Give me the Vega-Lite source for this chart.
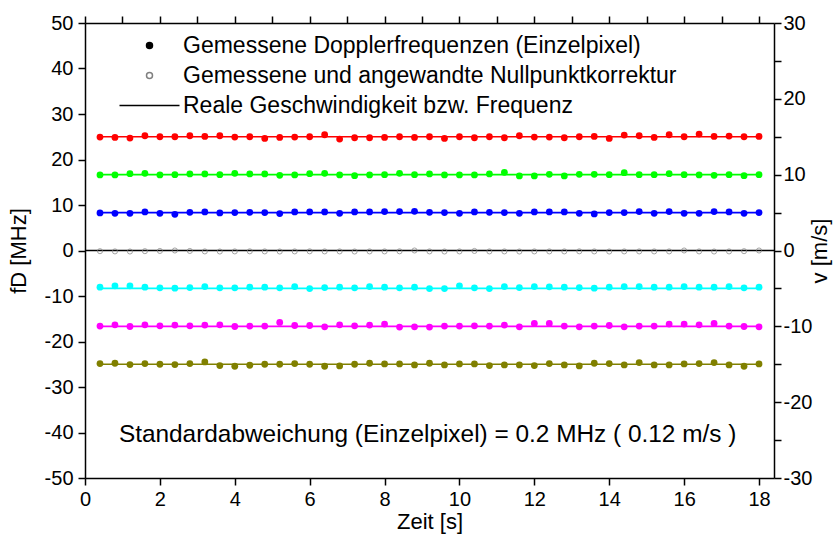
{
  "$schema": "https://vega.github.io/schema/vega-lite/v6.json",
  "width": 689,
  "height": 455,
  "autosize": {"type": "none"},
  "padding": {"left": 85, "top": 23, "right": 64, "bottom": 57},
  "background": "white",
  "config": {
    "view": {"stroke": null},
    "font": "Liberation Sans",
    "axis": {
      "grid": false,
      "ticks": true,
      "tickSize": 7,
      "domainColor": "black",
      "domainWidth": 1.5,
      "tickColor": "black",
      "tickWidth": 1.5,
      "labelFont": "Liberation Sans",
      "labelFontSize": 20,
      "labelColor": "black",
      "labelOverlap": false,
      "labelFlush": false,
      "titleFont": "Liberation Sans",
      "titleFontSize": 22,
      "titleFontWeight": "normal",
      "titleColor": "black"
    },
    "legend": {
      "labelFont": "Liberation Sans",
      "labelFontSize": 23,
      "labelColor": "black",
      "labelLimit": 800,
      "symbolStrokeWidth": 1.5,
      "symbolOpacity": 1,
      "symbolSize": 36
    }
  },
  "datasets": {
    "lines": [
      {"s": "p15", "t": 0.4, "v": 15}, {"s": "p15", "t": 18, "v": 15},
      {"s": "p10", "t": 0.4, "v": 10}, {"s": "p10", "t": 18, "v": 10},
      {"s": "p5", "t": 0.4, "v": 5}, {"s": "p5", "t": 18, "v": 5},
      {"s": "z", "t": 0, "v": 0}, {"s": "z", "t": 18.4, "v": 0},
      {"s": "m5", "t": 0.4, "v": -5}, {"s": "m5", "t": 18, "v": -5},
      {"s": "m10", "t": 0.4, "v": -10}, {"s": "m10", "t": 18, "v": -10},
      {"s": "m15", "t": 0.4, "v": -15}, {"s": "m15", "t": 18, "v": -15}
    ],
    "pts": [
      {"s":"p15","t":0.4,"f":24.93},{"s":"p15","t":0.8,"f":24.85},{"s":"p15","t":1.2,"f":24.7},{"s":"p15","t":1.6,"f":25.22},{"s":"p15","t":2,"f":25.0},{"s":"p15","t":2.4,"f":25.0},{"s":"p15","t":2.8,"f":25.22},{"s":"p15","t":3.2,"f":25.07},{"s":"p15","t":3.6,"f":25.22},{"s":"p15","t":4,"f":24.93},{"s":"p15","t":4.4,"f":25.0},{"s":"p15","t":4.8,"f":24.63},{"s":"p15","t":5.2,"f":24.85},{"s":"p15","t":5.6,"f":24.93},{"s":"p15","t":6,"f":25.0},{"s":"p15","t":6.4,"f":25.44},{"s":"p15","t":6.8,"f":24.49},{"s":"p15","t":7.2,"f":24.78},{"s":"p15","t":7.6,"f":24.78},{"s":"p15","t":8,"f":24.85},{"s":"p15","t":8.4,"f":25.0},{"s":"p15","t":8.8,"f":24.85},{"s":"p15","t":9.2,"f":25.0},{"s":"p15","t":9.6,"f":24.63},{"s":"p15","t":10,"f":25.0},{"s":"p15","t":10.4,"f":24.78},{"s":"p15","t":10.8,"f":25.0},{"s":"p15","t":11.2,"f":24.78},{"s":"p15","t":11.6,"f":25.22},{"s":"p15","t":12,"f":24.93},{"s":"p15","t":12.4,"f":24.93},{"s":"p15","t":12.8,"f":24.78},{"s":"p15","t":13.2,"f":25.0},{"s":"p15","t":13.6,"f":25.07},{"s":"p15","t":14,"f":24.63},{"s":"p15","t":14.4,"f":25.37},{"s":"p15","t":14.8,"f":25.22},{"s":"p15","t":15.2,"f":24.85},{"s":"p15","t":15.6,"f":25.44},{"s":"p15","t":16,"f":25.0},{"s":"p15","t":16.4,"f":25.59},{"s":"p15","t":16.8,"f":25.07},{"s":"p15","t":17.2,"f":25.15},{"s":"p15","t":17.6,"f":25.0},{"s":"p15","t":18,"f":25.07},

      {"s":"p10","t":0.4,"f":16.6},{"s":"p10","t":0.8,"f":16.6},{"s":"p10","t":1.2,"f":16.89},{"s":"p10","t":1.6,"f":16.96},{"s":"p10","t":2,"f":16.6},{"s":"p10","t":2.4,"f":16.67},{"s":"p10","t":2.8,"f":16.82},{"s":"p10","t":3.2,"f":16.82},{"s":"p10","t":3.6,"f":16.67},{"s":"p10","t":4,"f":16.96},{"s":"p10","t":4.4,"f":16.82},{"s":"p10","t":4.8,"f":16.82},{"s":"p10","t":5.2,"f":16.52},{"s":"p10","t":5.6,"f":16.6},{"s":"p10","t":6,"f":16.89},{"s":"p10","t":6.4,"f":16.96},{"s":"p10","t":6.8,"f":16.6},{"s":"p10","t":7.2,"f":16.45},{"s":"p10","t":7.6,"f":16.6},{"s":"p10","t":8,"f":16.67},{"s":"p10","t":8.4,"f":16.96},{"s":"p10","t":8.8,"f":16.67},{"s":"p10","t":9.2,"f":16.82},{"s":"p10","t":9.6,"f":16.6},{"s":"p10","t":10,"f":16.6},{"s":"p10","t":10.4,"f":16.6},{"s":"p10","t":10.8,"f":16.82},{"s":"p10","t":11.2,"f":17.18},{"s":"p10","t":11.6,"f":16.38},{"s":"p10","t":12,"f":16.38},{"s":"p10","t":12.4,"f":16.74},{"s":"p10","t":12.8,"f":16.38},{"s":"p10","t":13.2,"f":16.74},{"s":"p10","t":13.6,"f":16.74},{"s":"p10","t":14,"f":16.67},{"s":"p10","t":14.4,"f":17.11},{"s":"p10","t":14.8,"f":16.67},{"s":"p10","t":15.2,"f":16.67},{"s":"p10","t":15.6,"f":16.89},{"s":"p10","t":16,"f":16.67},{"s":"p10","t":16.4,"f":16.6},{"s":"p10","t":16.8,"f":16.52},{"s":"p10","t":17.2,"f":16.67},{"s":"p10","t":17.6,"f":16.45},{"s":"p10","t":18,"f":16.67},

      {"s":"p5","t":0.4,"f":8.26},{"s":"p5","t":0.8,"f":8.18},{"s":"p5","t":1.2,"f":8.18},{"s":"p5","t":1.6,"f":8.48},{"s":"p5","t":2,"f":8.18},{"s":"p5","t":2.4,"f":7.96},{"s":"p5","t":2.8,"f":8.4},{"s":"p5","t":3.2,"f":8.48},{"s":"p5","t":3.6,"f":8.26},{"s":"p5","t":4,"f":8.33},{"s":"p5","t":4.4,"f":8.4},{"s":"p5","t":4.8,"f":8.33},{"s":"p5","t":5.2,"f":8.11},{"s":"p5","t":5.6,"f":8.48},{"s":"p5","t":6,"f":8.48},{"s":"p5","t":6.4,"f":8.48},{"s":"p5","t":6.8,"f":8.18},{"s":"p5","t":7.2,"f":8.48},{"s":"p5","t":7.6,"f":8.48},{"s":"p5","t":8,"f":8.55},{"s":"p5","t":8.4,"f":8.55},{"s":"p5","t":8.8,"f":8.62},{"s":"p5","t":9.2,"f":8.4},{"s":"p5","t":9.6,"f":8.33},{"s":"p5","t":10,"f":8.18},{"s":"p5","t":10.4,"f":8.48},{"s":"p5","t":10.8,"f":8.4},{"s":"p5","t":11.2,"f":8.33},{"s":"p5","t":11.6,"f":8.18},{"s":"p5","t":12,"f":8.48},{"s":"p5","t":12.4,"f":8.48},{"s":"p5","t":12.8,"f":8.48},{"s":"p5","t":13.2,"f":8.18},{"s":"p5","t":13.6,"f":8.04},{"s":"p5","t":14,"f":8.33},{"s":"p5","t":14.4,"f":8.33},{"s":"p5","t":14.8,"f":8.55},{"s":"p5","t":15.2,"f":8.18},{"s":"p5","t":15.6,"f":8.55},{"s":"p5","t":16,"f":8.18},{"s":"p5","t":16.4,"f":8.18},{"s":"p5","t":16.8,"f":8.55},{"s":"p5","t":17.2,"f":8.48},{"s":"p5","t":17.6,"f":8.18},{"s":"p5","t":18,"f":8.33},

      {"s":"z","t":0.4,"f":-0.15},{"s":"z","t":0.8,"f":-0.2},{"s":"z","t":1.2,"f":-0.22},{"s":"z","t":1.6,"f":-0.15},{"s":"z","t":2,"f":-0.1},{"s":"z","t":2.4,"f":0.0},{"s":"z","t":2.8,"f":-0.1},{"s":"z","t":3.2,"f":-0.2},{"s":"z","t":3.6,"f":-0.22},{"s":"z","t":4,"f":-0.2},{"s":"z","t":4.4,"f":-0.18},{"s":"z","t":4.8,"f":-0.2},{"s":"z","t":5.2,"f":-0.22},{"s":"z","t":5.6,"f":-0.2},{"s":"z","t":6,"f":-0.18},{"s":"z","t":6.4,"f":-0.2},{"s":"z","t":6.8,"f":-0.2},{"s":"z","t":7.2,"f":-0.22},{"s":"z","t":7.6,"f":-0.2},{"s":"z","t":8,"f":-0.2},{"s":"z","t":8.4,"f":-0.18},{"s":"z","t":8.8,"f":0.0},{"s":"z","t":9.2,"f":-0.2},{"s":"z","t":9.6,"f":-0.22},{"s":"z","t":10,"f":-0.2},{"s":"z","t":10.4,"f":-0.1},{"s":"z","t":10.8,"f":-0.2},{"s":"z","t":11.2,"f":-0.2},{"s":"z","t":11.6,"f":-0.22},{"s":"z","t":12,"f":-0.2},{"s":"z","t":12.4,"f":-0.2},{"s":"z","t":12.8,"f":-0.2},{"s":"z","t":13.2,"f":-0.18},{"s":"z","t":13.6,"f":-0.2},{"s":"z","t":14,"f":-0.22},{"s":"z","t":14.4,"f":-0.2},{"s":"z","t":14.8,"f":-0.2},{"s":"z","t":15.2,"f":-0.2},{"s":"z","t":15.6,"f":-0.2},{"s":"z","t":16,"f":0.0},{"s":"z","t":16.4,"f":-0.2},{"s":"z","t":16.8,"f":-0.22},{"s":"z","t":17.2,"f":-0.2},{"s":"z","t":17.6,"f":-0.15},{"s":"z","t":18,"f":0.0},

      {"s":"m5","t":0.4,"f":-8.06},{"s":"m5","t":0.8,"f":-7.77},{"s":"m5","t":1.2,"f":-7.77},{"s":"m5","t":1.6,"f":-8.06},{"s":"m5","t":2,"f":-8.21},{"s":"m5","t":2.4,"f":-8.28},{"s":"m5","t":2.8,"f":-8.14},{"s":"m5","t":3.2,"f":-7.92},{"s":"m5","t":3.6,"f":-8.21},{"s":"m5","t":4,"f":-8.21},{"s":"m5","t":4.4,"f":-8.06},{"s":"m5","t":4.8,"f":-8.06},{"s":"m5","t":5.2,"f":-8.21},{"s":"m5","t":5.6,"f":-7.92},{"s":"m5","t":6,"f":-8.36},{"s":"m5","t":6.4,"f":-8.14},{"s":"m5","t":6.8,"f":-8.06},{"s":"m5","t":7.2,"f":-8.21},{"s":"m5","t":7.6,"f":-7.92},{"s":"m5","t":8,"f":-8.06},{"s":"m5","t":8.4,"f":-8.21},{"s":"m5","t":8.8,"f":-8.06},{"s":"m5","t":9.2,"f":-8.36},{"s":"m5","t":9.6,"f":-8.36},{"s":"m5","t":10,"f":-7.77},{"s":"m5","t":10.4,"f":-8.21},{"s":"m5","t":10.8,"f":-8.36},{"s":"m5","t":11.2,"f":-7.92},{"s":"m5","t":11.6,"f":-8.14},{"s":"m5","t":12,"f":-7.92},{"s":"m5","t":12.4,"f":-7.99},{"s":"m5","t":12.8,"f":-8.06},{"s":"m5","t":13.2,"f":-8.14},{"s":"m5","t":13.6,"f":-8.28},{"s":"m5","t":14,"f":-8.06},{"s":"m5","t":14.4,"f":-7.92},{"s":"m5","t":14.8,"f":-7.92},{"s":"m5","t":15.2,"f":-8.06},{"s":"m5","t":15.6,"f":-8.06},{"s":"m5","t":16,"f":-7.92},{"s":"m5","t":16.4,"f":-8.06},{"s":"m5","t":16.8,"f":-8.06},{"s":"m5","t":17.2,"f":-7.92},{"s":"m5","t":17.6,"f":-8.21},{"s":"m5","t":18,"f":-8.06},

      {"s":"m10","t":0.4,"f":-16.62},{"s":"m10","t":0.8,"f":-16.33},{"s":"m10","t":1.2,"f":-16.7},{"s":"m10","t":1.6,"f":-16.33},{"s":"m10","t":2,"f":-16.55},{"s":"m10","t":2.4,"f":-16.4},{"s":"m10","t":2.8,"f":-16.55},{"s":"m10","t":3.2,"f":-16.4},{"s":"m10","t":3.6,"f":-16.33},{"s":"m10","t":4,"f":-16.7},{"s":"m10","t":4.4,"f":-16.62},{"s":"m10","t":4.8,"f":-16.62},{"s":"m10","t":5.2,"f":-15.82},{"s":"m10","t":5.6,"f":-16.48},{"s":"m10","t":6,"f":-16.48},{"s":"m10","t":6.4,"f":-16.77},{"s":"m10","t":6.8,"f":-16.33},{"s":"m10","t":7.2,"f":-16.55},{"s":"m10","t":7.6,"f":-16.4},{"s":"m10","t":8,"f":-16.18},{"s":"m10","t":8.4,"f":-16.84},{"s":"m10","t":8.8,"f":-16.77},{"s":"m10","t":9.2,"f":-16.84},{"s":"m10","t":9.6,"f":-16.62},{"s":"m10","t":10,"f":-16.62},{"s":"m10","t":10.4,"f":-16.55},{"s":"m10","t":10.8,"f":-16.62},{"s":"m10","t":11.2,"f":-16.4},{"s":"m10","t":11.6,"f":-16.77},{"s":"m10","t":12,"f":-16.04},{"s":"m10","t":12.4,"f":-16.04},{"s":"m10","t":12.8,"f":-16.62},{"s":"m10","t":13.2,"f":-16.77},{"s":"m10","t":13.6,"f":-16.62},{"s":"m10","t":14,"f":-16.48},{"s":"m10","t":14.4,"f":-16.77},{"s":"m10","t":14.8,"f":-16.62},{"s":"m10","t":15.2,"f":-16.62},{"s":"m10","t":15.6,"f":-16.18},{"s":"m10","t":16,"f":-16.18},{"s":"m10","t":16.4,"f":-16.33},{"s":"m10","t":16.8,"f":-16.04},{"s":"m10","t":17.2,"f":-16.62},{"s":"m10","t":17.6,"f":-16.7},{"s":"m10","t":18,"f":-16.77},

      {"s":"m15","t":0.4,"f":-24.85},{"s":"m15","t":0.8,"f":-24.78},{"s":"m15","t":1.2,"f":-25.07},{"s":"m15","t":1.6,"f":-24.85},{"s":"m15","t":2,"f":-25.0},{"s":"m15","t":2.4,"f":-25.07},{"s":"m15","t":2.8,"f":-24.85},{"s":"m15","t":3.2,"f":-24.49},{"s":"m15","t":3.6,"f":-25.29},{"s":"m15","t":4,"f":-25.44},{"s":"m15","t":4.4,"f":-25.22},{"s":"m15","t":4.8,"f":-25.0},{"s":"m15","t":5.2,"f":-25.0},{"s":"m15","t":5.6,"f":-24.85},{"s":"m15","t":6,"f":-25.0},{"s":"m15","t":6.4,"f":-25.44},{"s":"m15","t":6.8,"f":-25.37},{"s":"m15","t":7.2,"f":-25.0},{"s":"m15","t":7.6,"f":-24.78},{"s":"m15","t":8,"f":-24.93},{"s":"m15","t":8.4,"f":-24.93},{"s":"m15","t":8.8,"f":-25.15},{"s":"m15","t":9.2,"f":-24.78},{"s":"m15","t":9.6,"f":-25.15},{"s":"m15","t":10,"f":-24.93},{"s":"m15","t":10.4,"f":-24.93},{"s":"m15","t":10.8,"f":-25.29},{"s":"m15","t":11.2,"f":-25.15},{"s":"m15","t":11.6,"f":-25.15},{"s":"m15","t":12,"f":-25.29},{"s":"m15","t":12.4,"f":-24.85},{"s":"m15","t":12.8,"f":-25.15},{"s":"m15","t":13.2,"f":-25.37},{"s":"m15","t":13.6,"f":-24.78},{"s":"m15","t":14,"f":-24.85},{"s":"m15","t":14.4,"f":-25.15},{"s":"m15","t":14.8,"f":-24.63},{"s":"m15","t":15.2,"f":-25.15},{"s":"m15","t":15.6,"f":-25.15},{"s":"m15","t":16,"f":-24.93},{"s":"m15","t":16.4,"f":-24.85},{"s":"m15","t":16.8,"f":-24.63},{"s":"m15","t":17.2,"f":-25.15},{"s":"m15","t":17.6,"f":-25.44},{"s":"m15","t":18,"f":-24.93}
    ],
    "leg": [
      {"k": "Gemessene Dopplerfrequenzen (Einzelpixel)"},
      {"k": "Gemessene und angewandte Nullpunktkorrektur"},
      {"k": "Reale Geschwindigkeit bzw. Frequenz"}
    ]
  },
  "layer": [
    {
      "data": {"name": "lines"},
      "mark": {"type": "line"},
      "encoding": {
        "x": {
          "field": "t", "type": "quantitative",
          "scale": {"domain": [0, 18.4], "nice": false, "zero": false},
          "axis": {
            "orient": "top", "title": null, "labels": false,
            "values": [0,1,2,3,4,5,6,7,8,9,10,11,12,13,14,15,16,17,18],
            "encode": {"ticks": {"update": {"y2": {"signal": "datum.value % 2 === 0 ? 7 : 4"}}}}
          }
        },
        "y": {
          "field": "v", "type": "quantitative",
          "scale": {"domain": [-30, 30], "nice": false, "zero": false},
          "axis": {
            "orient": "right", "title": "v [m/s]", "titleAngle": -90, "titlePadding": 20,
            "values": [-30,-25,-20,-15,-10,-5,0,5,10,15,20,25,30],
            "labelExpr": "datum.value % 10 === 0 ? '' + datum.value : ''",
            "labelPadding": 2,
            "encode": {"ticks": {"update": {"x2": {"signal": "datum.value % 10 === 0 ? -7 : -4"}}}}
          }
        },
        "color": {
          "field": "s", "type": "nominal", "legend": null,
          "scale": {
            "domain": ["p15", "p10", "p5", "z", "m5", "m10", "m15"],
            "range": ["#ff0000", "#00ff00", "#0000ff", "#000000", "#00ffff", "#ff00ff", "#808000"]
          }
        },
        "strokeWidth": {
          "field": "s", "type": "nominal", "legend": null,
          "scale": {
            "domain": ["p15", "p10", "p5", "z", "m5", "m10", "m15"],
            "range": [1.6, 1.6, 2.2, 1.6, 1.6, 1.6, 1.6]
          }
        },
        "detail": {"field": "s"}
      }
    },
    {
      "layer": [
        {
          "data": {"name": "pts"},
          "transform": [{"filter": "datum.s !== 'z'"}],
          "mark": {"type": "point", "filled": true, "size": 46, "opacity": 1},
          "encoding": {
            "x": {
              "field": "t", "type": "quantitative",
              "scale": {"domain": [0, 18.4], "nice": false, "zero": false},
              "axis": {
                "orient": "bottom", "title": "Zeit [s]", "titlePadding": 2,
                "values": [0,1,2,3,4,5,6,7,8,9,10,11,12,13,14,15,16,17,18],
                "labelExpr": "datum.value % 2 === 0 ? '' + datum.value : ''",
                "labelPadding": 4,
                "encode": {"ticks": {"update": {"y2": {"signal": "datum.value % 2 === 0 ? -7 : -4"}}}}
              }
            },
            "y": {
              "field": "f", "type": "quantitative",
              "scale": {"domain": [-50, 50], "nice": false, "zero": false},
              "axis": {
                "orient": "left", "title": "fD [MHz]", "titlePadding": 14,
                "values": [-50,-45,-40,-35,-30,-25,-20,-15,-10,-5,0,5,10,15,20,25,30,35,40,45,50],
                "labelExpr": "datum.value % 10 === 0 ? '' + datum.value : ''",
                "labelPadding": 5,
                "encode": {"ticks": {"update": {"x2": {"signal": "datum.value % 10 === 0 ? 7 : 4"}}}}
              }
            },
            "color": {"field": "s", "type": "nominal", "legend": null}
          }
        },
        {
          "data": {"name": "pts"},
          "transform": [{"filter": "datum.s === 'z'"}],
          "mark": {"type": "point", "filled": false, "size": 26, "stroke": "#808080", "strokeWidth": 1},
          "encoding": {
            "x": {"field": "t", "type": "quantitative"},
            "y": {"field": "f", "type": "quantitative"}
          }
        },
        {
          "data": {"values": [{"txt": "Standardabweichung (Einzelpixel) = 0.2 MHz  ( 0.12 m/s )"}]},
          "mark": {"type": "text", "font": "Liberation Sans", "fontSize": 24.4, "color": "black", "align": "center", "baseline": "middle"},
          "encoding": {
            "x": {"datum": 9.15, "type": "quantitative"},
            "y": {"datum": -40.5, "type": "quantitative"},
            "text": {"field": "txt"}
          }
        },
        {
          "data": {"name": "leg"},
          "transform": [{"filter": "false"}],
          "mark": {"type": "point", "size": 36},
          "encoding": {
            "shape": {
              "field": "k", "type": "nominal",
              "scale": {"domain": ["Gemessene Dopplerfrequenzen (Einzelpixel)", "Gemessene und angewandte Nullpunktkorrektur", "Reale Geschwindigkeit bzw. Frequenz"], "range": ["circle", "circle", "M-10,0H10"]},
              "legend": {"title": null, "orient": "none", "legendX": 53, "legendY": 11, "padding": 0, "rowPadding": 6, "labelOffset": 22}
            },
            "fill": {
              "field": "k", "type": "nominal",
              "scale": {"domain": ["Gemessene Dopplerfrequenzen (Einzelpixel)", "Gemessene und angewandte Nullpunktkorrektur", "Reale Geschwindigkeit bzw. Frequenz"], "range": ["black", "transparent", "transparent"]},
              "legend": {"title": null, "orient": "none", "legendX": 53, "legendY": 11, "padding": 0, "rowPadding": 6, "labelOffset": 22}
            },
            "stroke": {
              "field": "k", "type": "nominal",
              "scale": {"domain": ["Gemessene Dopplerfrequenzen (Einzelpixel)", "Gemessene und angewandte Nullpunktkorrektur", "Reale Geschwindigkeit bzw. Frequenz"], "range": ["black", "#808080", "black"]},
              "legend": {"title": null, "orient": "none", "legendX": 53, "legendY": 11, "padding": 0, "rowPadding": 6, "labelOffset": 22}
            }
          }
        }
      ]
    }
  ],
  "resolve": {"scale": {"y": "independent"}, "axis": {"x": "independent", "y": "independent"}}
}
